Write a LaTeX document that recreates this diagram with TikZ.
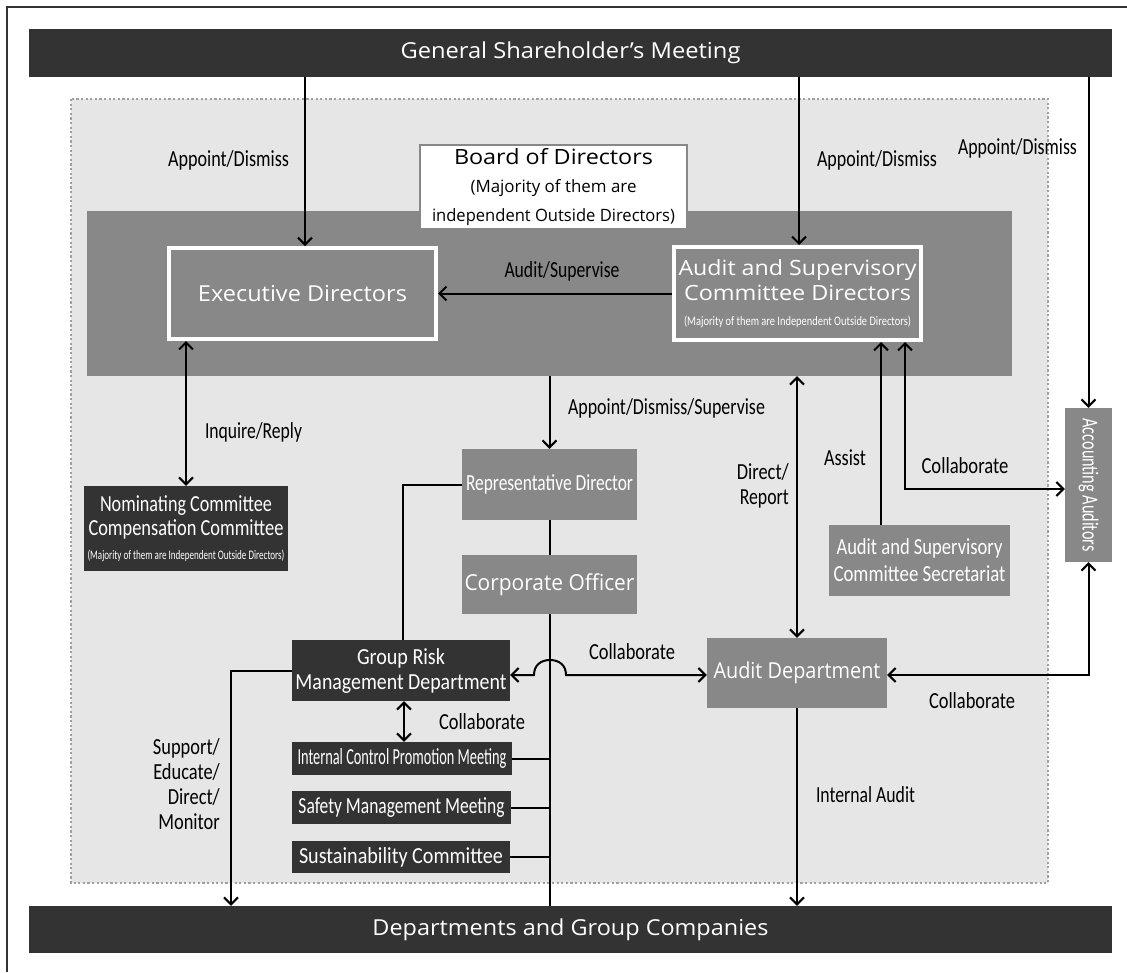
\documentclass[tikz,border=0pt]{standalone}
\usepackage{fontspec}
\usepackage{graphicx}
\usetikzlibrary{arrows.meta,calc}
\newfontfamily\osans{Open Sans}
\newfontfamily\carl{Carlito}
\newcommand\fw[2]{\resizebox{#1}{\height}{#2}}
\newcommand\sq[1]{\scalebox{0.8}[1]{#1}}
\definecolor{dk}{HTML}{333333}
\definecolor{md}{HTML}{888888}
\definecolor{lt}{HTML}{E6E6E6}
\definecolor{dotc}{HTML}{A0A0A0}
\begin{document}
\begin{tikzpicture}[x=1pt,y=-1pt,
  conn/.style={line width=2pt, draw=black},
  >={Straight Barb[length=7pt,width=14pt]},
  bx/.style 2 args={minimum width=#1, minimum height=#2},
  dkbox/.style={fill=dk, text=white, inner sep=0pt, align=center},
  mdbox/.style={fill=md, text=white, inner sep=0pt, align=center},
  whbord/.style={fill=md, draw=white, line width=4pt, text=white, inner sep=0pt, align=center},
  lbl/.style={font=\carl\fontsize{23}{25}\selectfont, inner sep=0pt, text=black},
  bigtxt/.style={font=\osans\fontsize{22}{26}\selectfont},
  cndtxt/.style={font=\carl\fontsize{23}{25}\selectfont}
]
\useasboundingbox (0,0) rectangle (1127,972);
\fill[white] (0,0) rectangle (1127,972);
\draw[line width=1.5pt, draw=dk] (7,972) -- (7,7) -- (1127,7);

% outer dotted region
\draw[fill=lt, draw=dotc, line width=2.2pt, dash pattern=on 2.2pt off 2.4pt] (71,99) rectangle (1048,883);

% bars
\node[dkbox, bigtxt, bx={1083pt}{48pt}] (gsm) at (570.5,53) {\fw{340pt}{General Shareholder’s Meeting}};
\node[dkbox, bigtxt, bx={1083pt}{47pt}] (dept) at (570.5,929.5) {\fw{396pt}{Departments and Group Companies}};

% board band
\node[fill=md, inner sep=0pt, bx={925pt}{165pt}] (band) at (549.5,293.5) {};
\node[fill=white, draw=md, line width=2pt, inner sep=0pt, align=center, bx={267pt}{84pt},
      font=\osans\fontsize{17}{28.5}\selectfont] (bod) at (553.5,187)
  {{\fontsize{21}{28.5}\selectfont\fw{199pt}{Board of Directors}}\\\fw{166pt}{(Majority of them are}\\\fw{243pt}{independent Outside Directors)}};

\node[whbord, bigtxt, bx={267pt}{91pt}] (exec) at (302.5,293.5) {\fw{209pt}{Executive Directors}};
\node[whbord, font=\osans\fontsize{21}{25}\selectfont, bx={247pt}{93pt}] (asc) at (797.5,293.5)
  {\fw{238pt}{Audit and Supervisory}\\\fw{227pt}{Committee Directors}\\{\carl\fontsize{13}{25}\selectfont\fw{227pt}{(Majority of them are Independent Outside Directors)}}};

% middle boxes
\node[mdbox, cndtxt, bx={175pt}{71pt}] (rep) at (549.5,484.5) {\fw{167pt}{Representative Director}};
\node[mdbox, bigtxt, bx={175pt}{59pt}] (corp) at (549.5,584.5) {\fw{170pt}{Corporate Officer}};
\node[dkbox, font=\carl\fontsize{23}{24}\selectfont, bx={204pt}{85pt}] (nom) at (186,528.5)
  {\fw{172pt}{Nominating Committee}\\\fw{195pt}{Compensation Committee}\\{\fontsize{13}{24}\selectfont\fw{197pt}{(Majority of them are Independent Outside Directors)}}};
\node[mdbox, font=\carl\fontsize{23}{27}\selectfont, bx={181pt}{71pt}] (sec) at (919.5,560.5)
  {\fw{166pt}{Audit and Supervisory}\\\fw{172pt}{Committee Secretariat}};
\node[mdbox, cndtxt, bx={47pt}{154pt}] (acct) at (1088.5,485) {\rotatebox{-90}{\fw{133pt}{Accounting Auditors}}};
\node[mdbox, bigtxt, bx={180pt}{70pt}] (audit) at (797,673) {\fw{167pt}{Audit Department}};
\node[dkbox, cndtxt, bx={218pt}{61pt}] (grm) at (401,670.5) {\fw{88pt}{Group Risk}\\\fw{211pt}{Management Department}};
\node[dkbox, cndtxt, bx={220pt}{33pt}] (icp) at (402,758.5) {\fw{209pt}{Internal Control Promotion Meeting}};
\node[dkbox, cndtxt, bx={219pt}{33pt}] (smm) at (401.5,807.5) {\fw{206pt}{Safety Management Meeting}};
\node[dkbox, cndtxt, bx={218pt}{32pt}] (sus) at (401,857) {\fw{204pt}{Sustainability Committee}};

% labels
\node[lbl] (l1) at (228.5,160) {\fw{121pt}{Appoint/Dismiss}};
\node[lbl] (l2) at (877,160) {\fw{120pt}{Appoint/Dismiss}};
\node[lbl] (l3) at (1017.5,148) {\fw{119pt}{Appoint/Dismiss}};
\node[lbl] (l4) at (562,271) {\fw{115pt}{Audit/Supervise}};
\node[lbl] (l5) at (253.5,432) {\fw{97pt}{Inquire/Reply}};
\node[lbl] (l6) at (666.5,408) {\fw{197pt}{Appoint/Dismiss/Supervise}};
\node[lbl, align=right, anchor=east] (l7) at (789,485.5) {\fw{52pt}{Direct/}\\\fw{49pt}{Report}};
\node[lbl] (l8) at (845,458) {\fw{42pt}{Assist}};
\node[lbl] (l9) at (965,466) {\fw{87pt}{Collaborate}};
\node[lbl] (l10) at (632,652) {\fw{86pt}{Collaborate}};
\node[lbl] (l11) at (482,722) {\fw{86pt}{Collaborate}};
\node[lbl] (l12) at (972,701) {\fw{86pt}{Collaborate}};
\node[lbl] (l13) at (865.5,795) {\fw{99pt}{Internal Audit}};
\node[lbl, align=right, anchor=east] (l14) at (220,784.5) {\sq{Support/}\\\sq{Educate/}\\\sq{Direct/}\\\sq{Monitor}};

% connectors
\draw[conn,->] (gsm.south -| 305,0) -- (exec.north -| 305,0);
\draw[conn,->] (gsm.south -| 799,0) -- (asc.north -| 799,0);
\draw[conn,->] (gsm.south -| acct.north) -- (acct.north);
\draw[conn,->] (asc.west) -- (asc.west -| exec.east);
\draw[conn,<->] (exec.south -| nom.north) -- (nom.north);
\draw[conn,->] (band.south -| rep.north) -- (rep.north);
\draw[conn] (rep.south) -- (corp.north);
\draw[conn] (corp.south) -- (corp.south |- dept.north);
\draw[conn] (rep.west) -| (grm.north -| 403,0);
\draw[conn,<->] (grm.east |- 0,675) -- (534,675) .. controls (534,665) and (541,660) .. (550,660) .. controls (559,660) and (566,665) .. (566,675) -- (audit.west |- 0,675);
\draw[conn,<->] (band.south -| audit.north) -- (audit.north);
\draw[conn,->] (sec.north -| 881,0) -- (asc.south -| 881,0);
\draw[conn,<->] (asc.south -| 905,0) |- (acct.west |- 0,489);
\draw[conn,<->] (acct.south) |- (audit.east |- 0,675);
\draw[conn,->] (audit.south) -- (audit.south |- dept.north);
\draw[conn,->] (grm.west) -| (dept.north -| 231,0);
\draw[conn,<->] (grm.south -| 404,0) -- (icp.north -| 404,0);
\draw[conn] (icp.east) -- (icp.east -| corp.south);
\draw[conn] (smm.east) -- (smm.east -| corp.south);
\draw[conn] (sus.east) -- (sus.east -| corp.south);
\end{tikzpicture}
\end{document}
